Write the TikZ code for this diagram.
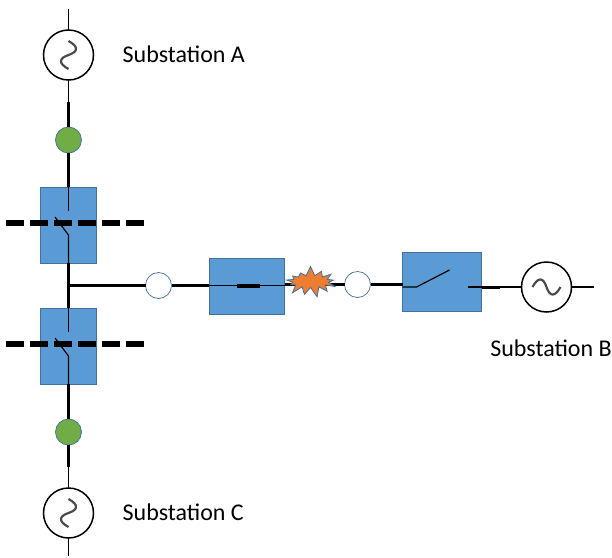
\documentclass[tikz,border=0pt]{standalone}
\usepackage{fontspec}
\setmainfont{Carlito}
\usepackage{xcolor}
\usetikzlibrary{shapes,shapes.symbols,positioning,calc}
\definecolor{boxblue}{HTML}{5B9BD5}
\definecolor{edgeblue}{HTML}{41719C}
\definecolor{metergreen}{HTML}{70AD47}
\definecolor{faultorange}{HTML}{ED7D31}

\begin{document}
\begin{tikzpicture}[
        x=1pt, y=1pt,
        gen/.style={circle, draw, fill=white, line width=1.5pt, minimum size=50pt, inner sep=0pt, outer sep=0pt},
        wave/.pic={\draw[line width=2.2pt, black!70]
                (-14,0) .. controls (-8,11) and (-3,9) .. (0,0) .. controls (3,-9) and (8,-11) .. (14,0);},
        relay/.style={rectangle, draw=edgeblue, fill=boxblue, line width=0.6pt, inner sep=0pt, outer sep=0pt},
        meter/.style={circle, draw=edgeblue, fill=metergreen, line width=0.7pt, minimum size=26pt, inner sep=0pt, outer sep=0pt},
        breaker/.style={circle, draw=edgeblue, fill=white, line width=0.7pt, minimum size=26pt, inner sep=0pt, outer sep=0pt},
        fault/.style={starburst, starburst points=13, starburst point height=10pt, random starburst=7, draw=edgeblue, fill=faultorange,
            line width=0.8pt, minimum width=56pt, minimum height=32pt, inner sep=0pt, outer sep=0pt},
        label/.style={font=\fontsize{24}{28}\selectfont, inner sep=0pt},
        bus/.style={line width=3pt},
        wire/.style={line width=1.2pt},
        cutline/.style={line width=6pt, dash pattern=on 18pt off 6pt}
    ]
        \useasboundingbox (-68.5,55) rectangle (543.5,-502);

        % left column, top to bottom
        \node[gen] (gena) {};
        \node[meter, below of=gena, node distance=85pt] (meta) {};
        \node[relay, below of=meta, node distance=85pt, minimum width=55.5pt, minimum height=76pt] (rela) {};
        \node[relay, below of=rela, node distance=121pt, minimum width=55.5pt, minimum height=76pt] (relc) {};
        \node[meter, below of=relc, node distance=86pt] (metc) {};
        \node[gen, below of=metc, node distance=81pt] (genc) {};
        \pic[rotate=-90] at (gena) {wave};
        \pic[rotate=-90] at (genc) {wave};

        \coordinate[above of=gena, node distance=46pt] (topa);
        \coordinate[below of=gena, node distance=47pt] (joina);
        \coordinate[above of=genc, node distance=46pt] (joinc);
        \coordinate[below of=genc, node distance=43pt] (endc);
        \coordinate[below of=rela, node distance=60.5pt] (tee);

        % right branch
        \node[breaker, right of=tee, node distance=90pt] (cirl) {};
        \node[relay, right of=cirl, node distance=88.5pt, yshift=-1pt, minimum width=75.5pt, minimum height=56pt] (relm) {};
        \node[breaker, right of=relm, node distance=110.5pt, yshift=2pt] (cirr) {};
        \node[relay, right of=cirr, node distance=84.5pt, yshift=3pt, minimum width=79pt, minimum height=59pt] (relr) {};
        \node[gen, right of=relr, node distance=104.5pt, yshift=-5.5pt] (genb) {};
        \pic at (genb) {wave};
        \coordinate[right of=genb, node distance=47pt] (endb);
        \coordinate[right of=relr, node distance=57.5pt, yshift=-5.5pt] (joinb);

        % feeders
        \draw[wire] (topa) -- (gena);
        \draw[wire] (gena) -- (joina);
        \draw[bus] (joina) -- (meta);
        \draw[bus] (meta) -- (rela);
        \draw[bus] (rela) -- (relc);
        \draw[bus] (relc) -- (metc);
        \draw[bus] (metc) -- (joinc);
        \draw[wire] (joinc) -- (genc);
        \draw[wire] (genc) -- (endc);
        \draw[bus] (tee) -- (cirl);
        \draw[bus] (cirl) -- (cirl -| relm.west);
        \draw[bus] (relm.east |- cirr) -- (cirr);
        \draw[bus] (cirr) -- (cirr -| relr.west);
        \draw[bus] (relr.east |- genb) -- (joinb);
        \draw[wire] (joinb) -- (genb);
        \draw[wire] (genb) -- (endb);

        % contacts inside the boxes
        \draw[wire] (rela.north) -- ++(0,-24);
        \draw[wire] ($(rela.south)+(-13.5,46)$) -- ($(rela.south)+(0,28)$) -- (rela.south);
        \draw[wire] (relc.north) -- ++(0,-24);
        \draw[wire] ($(relc.south)+(-13.5,46)$) -- ($(relc.south)+(0,28)$) -- (relc.south);
        \draw[wire] (relm.west |- cirl) -- ++(28,0);
        \draw[line width=4pt] ($(relm.west |- cirl)+(28,0)$) -- ++(23,0);
        \draw[wire] ($(relm.west |- cirl)+(51,0)$) -- (relm.east |- cirl);
        \draw[wire] (relr.west |- genb) -- ++(14,0) -- ++(33,17);
        \draw[wire] (relr.east |- genb) -- ++(-14,0);

        \draw[cutline] ([xshift=-62.25pt,yshift=2pt]rela.center) -- ([xshift=75.75pt,yshift=2pt]rela.center);
        \draw[cutline] ([xshift=-62.25pt,yshift=2pt]relc.center) -- ([xshift=75.75pt,yshift=2pt]relc.center);

        \node[fault, right of=relm, node distance=63.5pt, yshift=5pt] (burst) {};

        \node[label, right=29pt of gena, yshift=1pt] (laba) {Substation A};
        \node[label, right=29pt of genc, yshift=1pt] (labc) {Substation C};
        \node[label, below of=genb, node distance=61pt, xshift=4.5pt] (labb) {Substation B};
    \end{tikzpicture}
\end{document}
